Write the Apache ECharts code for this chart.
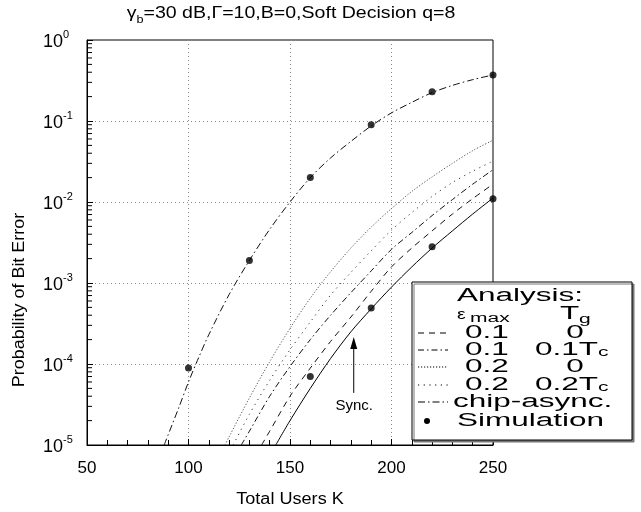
<!DOCTYPE html>
<html>
<head>
<meta charset="utf-8">
<script src="https://cdn.jsdelivr.net/npm/echarts@6/dist/echarts.min.js"></script>
<style>
html, body { margin: 0; padding: 0; background: #fff; }
#main { width: 641px; height: 512px; }
</style>
</head>
<body>
<div id="main"></div>
<script>
var FONT = '"Liberation Sans", Arial, sans-serif';

// x axis ticks
var xTicks = [50, 100, 150, 200, 250];

// chip-asynchronous analysis
var chipK = [88, 95, 100, 105, 110, 120, 130, 140, 150, 160, 170, 180, 190, 200, 210, 220, 230, 240, 250];
var chipP = [1.0e-5, 2.8e-5, 6.0e-5, 1.2e-4, 2.3e-4, 7.2e-4, 1.9e-3, 4.6e-3, 1.0e-2, 2.0e-2, 3.5e-2, 5.6e-2, 8.7e-2, 0.126, 0.17, 0.224, 0.275, 0.324, 0.37];

// eps 0.2, Tg 0 (dense dots)
var e2g0K = [118, 120, 130, 140, 150, 160, 170, 180, 190, 200, 210, 220, 230, 240, 250];
var e2g0P = [1.0e-5, 1.26e-5, 3.8e-5, 1.07e-4, 2.75e-4, 6.5e-4, 1.38e-3, 2.7e-3, 4.9e-3, 8.3e-3, 1.35e-2, 2.04e-2, 3.0e-2, 4.3e-2, 5.8e-2];

// eps 0.2, Tg 0.2Tc (sparse dots)
var e2g2K = [122, 130, 140, 150, 160, 170, 180, 190, 200, 210, 220, 230, 240, 250];
var e2g2P = [1.0e-5, 2.4e-5, 6.3e-5, 1.5e-4, 3.3e-4, 7.1e-4, 1.35e-3, 2.5e-3, 4.5e-3, 7.4e-3, 1.17e-2, 1.74e-2, 2.4e-2, 3.2e-2];

// eps 0.1, Tg 0.1Tc (dash dot)
var e1g1K = [126, 130, 140, 150, 160, 170, 180, 190, 200, 210, 220, 230, 240, 250];
var e1g1P = [1.0e-5, 1.48e-5, 4.0e-5, 9.3e-5, 2.0e-4, 4.0e-4, 7.6e-4, 1.41e-3, 2.6e-3, 4.2e-3, 6.8e-3, 1.07e-2, 1.66e-2, 2.5e-2];

// eps 0.1, Tg 0 (dashed)
var e1g0K = [136, 140, 150, 160, 170, 180, 190, 200, 210, 220, 230, 240, 250];
var e1g0P = [1.0e-5, 1.48e-5, 4.0e-5, 8.9e-5, 1.9e-4, 3.8e-4, 7.9e-4, 1.58e-3, 2.7e-3, 4.4e-3, 7.1e-3, 1.1e-2, 1.66e-2];

// synchronous
var syncK = [143, 150, 160, 170, 180, 190, 200, 210, 220, 230, 240, 250];
var syncP = [1.0e-5, 2.0e-5, 5.0e-5, 1.17e-4, 2.5e-4, 4.8e-4, 8.9e-4, 1.58e-3, 2.7e-3, 4.4e-3, 7.1e-3, 1.12e-2];

// simulation points
var simK = [100, 130, 160, 190, 220, 250, 160, 190, 220, 250];
var simP = [8.9e-5, 1.9e-3, 2.0e-2, 9.0e-2, 0.23, 0.37, 7.0e-5, 4.9e-4, 2.8e-3, 1.1e-2];

// minor ticks on the log axis
var minorMant = [2, 3, 4, 5, 6, 7, 8, 9];
var decades = [-5, -4, -3, -2, -1];

function pairs(a, b) {
    var out = [];
    for (var i = 0; i < a.length; i++) out.push([a[i], b[i]]);
    return out;
}

var minorY = [];
decades.forEach(function (d) {
    minorMant.forEach(function (m) { minorY.push([50, m * Math.pow(10, d)]); });
});

function curve(name, k, p, dash, color) {
    return {
        name: name,
        type: 'line',
        data: pairs(k, p),
        smooth: 0.3,
        symbol: 'none',
        lineStyle: { color: color, width: 1, type: dash },
        z: 3
    };
}

var chart = echarts.init(document.getElementById('main'));

var option = {
    animation: false,
    backgroundColor: '#fff',
    grid: { left: 87, right: 148, top: 40, bottom: 67, show: true, borderColor: '#000', borderWidth: 1 },
    xAxis: {
        type: 'value',
        min: 50,
        max: 250,
        interval: 50,
        axisLine: { lineStyle: { color: '#000' } },
        axisTick: { inside: true, length: 6, lineStyle: { color: '#000' } },
        minorTick: { show: true, splitNumber: 5, length: 5, lineStyle: { color: '#000' } },
        axisLabel: { color: '#000', fontFamily: FONT, fontSize: 17, margin: 15 },
        splitLine: { show: true, lineStyle: { color: '#888', type: [1, 3] } }
    },
    yAxis: {
        type: 'log',
        logBase: 10,
        min: 1e-5,
        max: 1,
        axisLine: { lineStyle: { color: '#000' } },
        axisTick: { inside: true, length: 6, lineStyle: { color: '#000' } },
        axisLabel: {
            align: 'left',
            margin: 44,
            formatter: function (v) {
                return '{b|10}{s|' + Math.round(Math.log10(v)) + '}';
            },
            rich: {
                b: { fontFamily: FONT, fontSize: 18, color: '#000', lineHeight: 22, verticalAlign: 'bottom' },
                s: { fontFamily: FONT, fontSize: 11, color: '#000', lineHeight: 12, verticalAlign: 'top' }
            }
        },
        splitLine: { show: true, lineStyle: { color: '#888', type: [1, 3] } }
    },
    series: [
        {
            type: 'custom',
            silent: true,
            clip: false,
            data: minorY,
            renderItem: function (params, api) {
                var p = api.coord([50, api.value(1)]);
                return { type: 'line', shape: { x1: p[0], y1: p[1], x2: p[0] + 5, y2: p[1] }, style: { stroke: '#000', lineWidth: 1 } };
            },
            z: 4
        },
        curve('chip-async.', chipK, chipP, [7, 3, 1.5, 3], '#111'),
        curve('0.2 0', e2g0K, e2g0P, [1.2, 1.8], '#555'),
        curve('0.2 0.2Tc', e2g2K, e2g2P, [1.2, 4.5], '#333'),
        curve('0.1 0.1Tc', e1g1K, e1g1P, [6, 3, 1.5, 3], '#111'),
        curve('0.1 0', e1g0K, e1g0P, [6, 5], '#111'),
        curve('Sync.', syncK, syncP, 'solid', '#000'),
        {
            name: 'Simulation',
            type: 'scatter',
            data: pairs(simK, simP),
            symbolSize: 7,
            itemStyle: { color: '#000' },
            z: 5
        }
    ]
};

chart.setOption(option);

// sync annotation arrow placed in data coordinates
var tip = chart.convertToPixel({ gridIndex: 0 }, [181.4, 2.15e-4]);
var tail = chart.convertToPixel({ gridIndex: 0 }, [181.4, 4.4e-5]);
var lab = chart.convertToPixel({ gridIndex: 0 }, [181.6, 3.0e-5]);

function txt(x, y, s, size, align, sx) {
    return {
        type: 'text', x: x, y: y, scaleX: sx || 1.75, z: 101,
        style: { text: s, font: size + 'px ' + FONT, fill: '#000', textAlign: align || 'left', textVerticalAlign: 'middle' }
    };
}
function sample(y, dash) {
    return { type: 'line', z: 101, shape: { x1: 418, y1: y, x2: 448, y2: y }, style: { stroke: '#000', lineWidth: 1, lineDash: dash } };
}

var rows = [333, 350, 367, 385, 402, 421];

chart.setOption({
    graphic: [
        {
            type: 'text', x: 291, y: 15, scaleX: 1.15, z: 101,
            style: {
                text: '{a|γ}{s|b}{a|=30 dB,Γ=10,B=0,Soft Decision q=8}',
                textAlign: 'center', textVerticalAlign: 'middle',
                rich: {
                    a: { fontFamily: FONT, fontSize: 17, fill: '#000', lineHeight: 20, verticalAlign: 'top' },
                    s: { fontFamily: FONT, fontSize: 11, fill: '#000', lineHeight: 12, verticalAlign: 'bottom' }
                }
            }
        },
        {
            type: 'text', x: 20, y: 300, rotation: Math.PI / 2, scaleX: 1.12, z: 101,
            style: { text: 'Probability of Bit Error', font: '16px ' + FONT, fill: '#000', textAlign: 'center', textVerticalAlign: 'middle' }
        },
        {
            type: 'text', x: 290, y: 500, scaleX: 1.13, z: 101,
            style: { text: 'Total Users K', font: '16px ' + FONT, fill: '#000', textAlign: 'center', textVerticalAlign: 'middle' }
        },
        { type: 'line', z: 101, shape: { x1: tip[0], y1: tip[1] + 10, x2: tail[0], y2: tail[1] }, style: { stroke: '#000', lineWidth: 1 } },
        { type: 'polygon', z: 101, shape: { points: [[tip[0], tip[1]], [tip[0] - 3.5, tip[1] + 12], [tip[0] + 3.5, tip[1] + 12]] }, style: { fill: '#000' } },
        {
            type: 'text', x: lab[0], y: lab[1], z: 101,
            style: { text: 'Sync.', font: '15px ' + FONT, fill: '#000', textAlign: 'center', textVerticalAlign: 'middle' }
        },
        {
            type: 'rect', z: 100,
            shape: { x: 412, y: 282, width: 220, height: 158 },
            style: { fill: '#fff', stroke: '#000', lineWidth: 1, shadowOffsetX: 2, shadowOffsetY: 2, shadowColor: '#777', shadowBlur: 0 }
        },
        txt(457, 296, 'Analysis:', 18),
        txt(457, 315, 'ε', 15, 'left', 1.3),
        txt(470, 319, 'max', 12),
        txt(560, 314, 'T', 18),
        txt(579, 320, 'g', 12),
        sample(rows[0], [6, 5]),
        txt(465, rows[0], '0.1', 18),
        txt(575, rows[0], '0', 18, 'center'),
        sample(rows[1], [6, 3, 1.5, 3]),
        txt(465, rows[1], '0.1', 18),
        txt(535, rows[1], '0.1T', 18),
        txt(598, rows[1] + 3, 'c', 12),
        sample(rows[2], [1.2, 1.8]),
        txt(465, rows[2], '0.2', 18),
        txt(575, rows[2], '0', 18, 'center'),
        sample(rows[3], [1.2, 4.5]),
        txt(465, rows[3], '0.2', 18),
        txt(535, rows[3], '0.2T', 18),
        txt(598, rows[3] + 3, 'c', 12),
        sample(rows[4], [7, 3, 1.5, 3]),
        txt(453, rows[4], 'chip-async.', 18),
        { type: 'circle', z: 101, shape: { cx: 427, cy: rows[5], r: 3 }, style: { fill: '#000' } },
        txt(457, rows[5], 'Simulation', 18)
    ]
});
</script>
</body>
</html>
